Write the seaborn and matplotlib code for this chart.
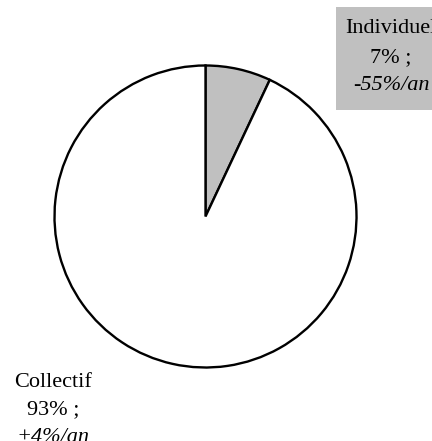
import matplotlib
matplotlib.use("Agg")
import matplotlib.pyplot as plt
import seaborn as sns

# Part of each transport mode and its yearly change
categories = ["Individuel", "Collectif"]
shares = [7, 93]
growth = ["-55%/an", "+4%/an"]
colors = ["#C0C0C0", "#FFFFFF"]

sns.set_theme(style="white")
plt.rcParams["font.family"] = ["Liberation Serif", "DejaVu Serif"]
plt.rcParams["text.color"] = "black"

fig = plt.figure(figsize=(4.32, 4.41), dpi=100)
W, H = 432, 441
cx, cy, r = 205.5, 216.5, 151
ax = fig.add_axes([(cx - r) / W, (H - cy - r) / H, 2 * r / W, 2 * r / H])

ax.pie(shares, colors=colors, startangle=90, counterclock=False,
       wedgeprops=dict(edgecolor="black", linewidth=1.7))
ax.set_xlim(-1, 1)
ax.set_ylim(-1, 1)
ax.set_axis_off()

fs = 16
# Grey label box for the small slice
fig.patches.append(plt.Rectangle((336 / W, 1 - 110 / H), 100 / W, 103 / H,
                                 transform=fig.transFigure, facecolor="#C0C0C0",
                                 edgecolor="none", zorder=0))

def label(x, baselines, name, share, rate):
    b1, b2, b3 = baselines
    fig.text(x / W, 1 - b1 / H, name, ha="center", va="baseline", fontsize=fs)
    fig.text(x / W, 1 - b2 / H, f"{share}% ;", ha="center", va="baseline", fontsize=fs)
    fig.text(x / W, 1 - b3 / H, rate, ha="center", va="baseline",
             fontsize=fs, style="italic")

label(391, (33, 62, 90), categories[0], shares[0], growth[0])
label(53, (387, 414, 442), categories[1], shares[1], growth[1])

fig.savefig("out.png", dpi=100)
